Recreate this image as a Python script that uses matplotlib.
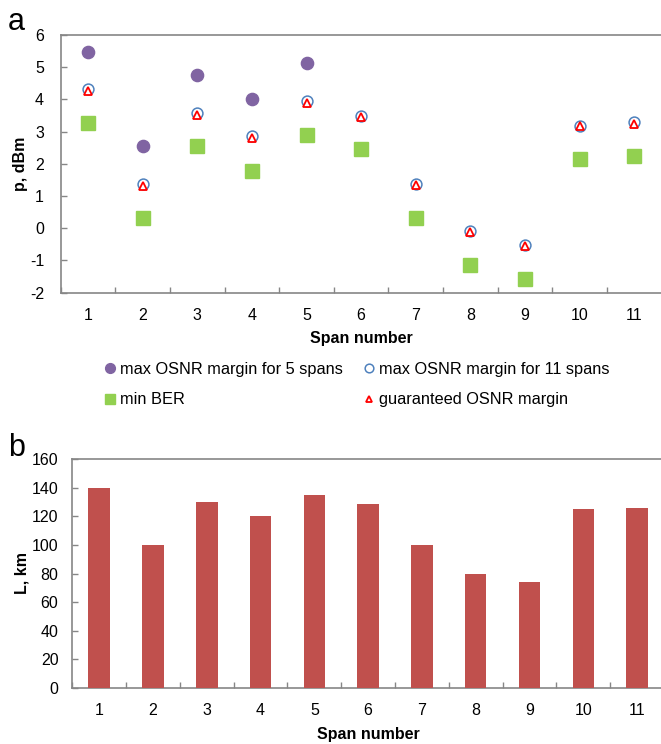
import matplotlib
matplotlib.use("Agg")
import matplotlib.pyplot as plt
import numpy as np

plt.rcParams["font.family"] = ["Liberation Sans", "DejaVu Sans"]
plt.rcParams["axes.unicode_minus"] = False

spans = list(range(1, 12))
osnr_5 = [5.48, 2.56, 4.76, 4.02, 5.12]
osnr_11 = [4.32, 1.38, 3.57, 2.85, 3.96, 3.50, 1.38, -0.09, -0.53, 3.19, 3.29]
guaranteed = [4.26, 1.32, 3.52, 2.80, 3.89, 3.45, 1.33, -0.12, -0.56, 3.16, 3.24]
min_ber = [3.27, 0.32, 2.54, 1.79, 2.90, 2.45, 0.32, -1.14, -1.57, 2.16, 2.23]
lengths = [140, 100, 130, 120, 135, 129, 100, 80, 74, 125, 126]

AX_COL = "#868686"

fig = plt.figure(figsize=(6.61, 7.44), dpi=100)

ax1 = fig.add_axes([60.7 / 661, 1 - 292.7 / 744, 600.9 / 661, 257.7 / 744])
ax2 = fig.add_axes([72.3 / 661, 1 - 687.7 / 744, 591.7 / 661, 228.4 / 744])


def style_axis(ax, ypad):
    for s in ax.spines.values():
        s.set_color(AX_COL)
        s.set_linewidth(1.2)
    ax.spines["right"].set_visible(False)
    ax.set_xlim(0.5, 11.5)
    ax.set_xticks(spans)
    ax.set_xticklabels([str(s) for s in spans])
    ax.set_xticks(np.arange(0.5, 12, 1), minor=True)
    ax.tick_params(axis="x", which="major", length=0, pad=11, labelsize=11.5)
    ax.tick_params(axis="x", which="minor", direction="in", length=4,
                   color=AX_COL, width=1)
    ax.tick_params(axis="y", direction="in", length=4, color=AX_COL,
                   width=1, pad=ypad, labelsize=11.5)


# panel a
ax1.plot(spans[:5], osnr_5, "o", color="#8064A2", ms=8.8, mec="#8064A2",
         ls="none", label="max OSNR margin for 5 spans", zorder=3)
ax1.plot(spans, min_ber, "s", color="#92D050", ms=9.5, mec="#92D050",
         ls="none", label="min BER", zorder=3)
ax1.plot(spans, osnr_11, "o", mfc="white", mec="#4F81BD", mew=1.1, ms=7.8,
         ls="none", label="max OSNR margin for 11 spans", zorder=3)
ax1.plot(spans, guaranteed, "^", mfc="white", mec="#FF0000", mew=1.3, ms=5.5,
         ls="none", label="guaranteed OSNR margin", zorder=4)
ax1.set_ylim(-2, 6)
ax1.set_yticks(range(-2, 7))
style_axis(ax1, 12)
ax1.set_ylabel("p, dBm", fontsize=11.5, fontweight="bold")
ax1.yaxis.set_label_coords(-0.055, 0.5)
ax1.set_xlabel("Span number", fontsize=11.5, fontweight="bold")
ax1.xaxis.set_label_coords(0.5, -0.15)

fig.legend(loc="center", bbox_to_anchor=(0.539, 0.483), ncol=2, frameon=False,
           fontsize=11.8, handlelength=0.8, handletextpad=0.2,
           columnspacing=1.2, labelspacing=0.95, markerscale=0.8)

# panel b
ax2.bar(spans, lengths, width=0.4, color="#C0504D", zorder=3)
ax2.set_ylim(0, 160)
ax2.set_yticks(range(0, 161, 20))
style_axis(ax2, 10)
ax2.set_ylabel("L, km", fontsize=11.5, fontweight="bold")
ax2.yaxis.set_label_coords(-0.072, 0.5)
ax2.set_xlabel("Span number", fontsize=11.5, fontweight="bold")
ax2.xaxis.set_label_coords(0.5, -0.17)

fig.text(8 / 661, 1 - 30 / 744, "a", fontsize=22)
fig.text(8 / 661, 1 - 456 / 744, "b", fontsize=22)

fig.savefig("out.png", dpi=100)
